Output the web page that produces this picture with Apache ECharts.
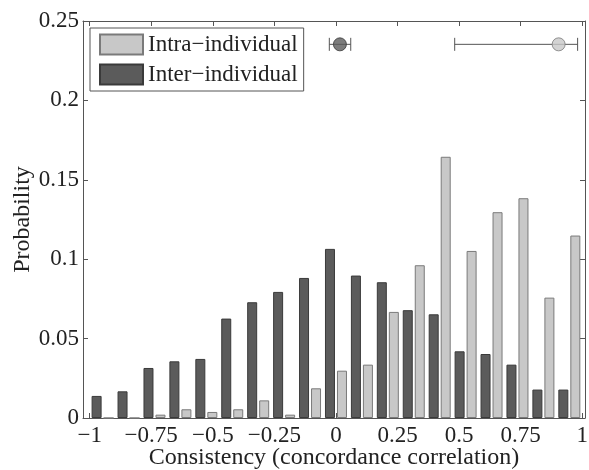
<!DOCTYPE html>
<html>
<head>
<meta charset="utf-8">
<script src="https://cdn.jsdelivr.net/npm/echarts@6/dist/echarts.min.js"></script>
<style>
html,body{margin:0;padding:0;background:#fff;}
#chart{width:589px;height:470px;}
</style>
</head>
<body>
<div id="chart"></div>
<script>
// ---- data ----
var binCount = 19;
var binCenters = [-0.9474,-0.8421,-0.7368,-0.6316,-0.5263,-0.4211,-0.3158,-0.2105,-0.1053,0,0.1053,0.2105,0.3158,0.4211,0.5263,0.6316,0.7368,0.8421,0.9474];
var intraValues = [0,0,0.0021,0.0055,0.0038,0.0055,0.0111,0.0021,0.0187,0.0298,0.0336,0.0668,0.0962,0.1645,0.1052,0.1296,0.1384,0.0758,0.1149];
var interValues = [0.0139,0.0168,0.0315,0.0357,0.0372,0.0626,0.0729,0.0794,0.0882,0.1065,0.0897,0.0855,0.0679,0.0653,0.0420,0.0403,0.0336,0.0179,0.0179];
var xTicks = [-1,-0.75,-0.5,-0.25,0,0.25,0.5,0.75,1];
var yTicks = [0,0.05,0.1,0.15,0.2,0.25];
var summaryMean = [0.016, 0.904];
var summaryLow = [-0.027, 0.482];
var summaryHigh = [0.060, 0.981];
var summaryY = [0.2353, 0.2353];

var FONT = '"Liberation Serif","Times New Roman",serif';
var LIGHT = '#c8c8c8', LIGHT_EDGE = '#7a7a7a';
var DARK = '#5b5b5b', DARK_EDGE = '#3a3a3a';
function fmt(v){ return String(v).replace('-', '\u2212'); }

var chart = echarts.init(document.getElementById('chart'), null, {renderer:'canvas'});
var intraData = binCenters.map(function(c,i){return [c, intraValues[i]];});
var interData = binCenters.map(function(c,i){return [c, interValues[i]];});
var errData = summaryMean.map(function(m,i){return [summaryLow[i], summaryHigh[i], summaryY[i], i];});

var option = {
  animation:false,
  backgroundColor:'#fff',
  textStyle:{fontFamily:FONT},
  grid:{left:83, right:4, top:21, bottom:52, containLabel:false, outerBoundsMode:'none'},
  legend:{
    orient:'vertical', left:90, top:28,
    data:['Intra\u2212individual','Inter\u2212individual'],
    itemWidth:43, itemHeight:20, itemGap:7,
    padding:[5,6,5,9],
    borderColor:'#555', borderWidth:1, backgroundColor:'#fff',
    textStyle:{fontFamily:FONT, fontSize:23, color:'#222'},
    icon:'rect'
  },
  xAxis:[{
    type:'value', min:-1.027, max:1.011,
    name:'Consistency (concordance correlation)', nameLocation:'middle', nameGap:28, nameMoveOverlap:false,
    nameTextStyle:{fontFamily:FONT, fontSize:24, color:'#222', verticalAlign:'top'},
    axisLine:{onZero:false, lineStyle:{color:'#555', width:1}},
    axisTick:{inside:true, length:5, customValues:xTicks, lineStyle:{color:'#555'}},
    axisLabel:{customValues:xTicks, formatter:fmt, fontFamily:FONT, fontSize:23, color:'#222', margin:6},
    splitLine:{show:false}
  },{
    type:'value', position:'top', min:-1.027, max:1.011,
    axisLine:{onZero:false, lineStyle:{color:'#555', width:1}},
    axisTick:{inside:true, length:5, customValues:xTicks, lineStyle:{color:'#555'}},
    axisLabel:{show:false}, splitLine:{show:false}
  }],
  yAxis:[{
    type:'value', min:0, max:0.25, interval:0.05,
    name:'Probability', nameLocation:'middle', nameGap:48, nameMoveOverlap:false,
    nameTextStyle:{fontFamily:FONT, fontSize:24, color:'#222'},
    axisLine:{show:true, onZero:false, lineStyle:{color:'#555', width:1}},
    axisTick:{show:true, inside:true, length:5, lineStyle:{color:'#555'}},
    axisLabel:{fontFamily:FONT, fontSize:23, color:'#222', margin:4, formatter:function(v){return String(v);}},
    splitLine:{show:false}
  },{
    type:'value', position:'right', min:0, max:0.25, interval:0.05,
    axisLine:{show:true, onZero:false, lineStyle:{color:'#555', width:1}},
    axisTick:{show:true, inside:true, length:5, lineStyle:{color:'#555'}},
    axisLabel:{show:false}, splitLine:{show:false}
  }],
  series:[
    {
      name:'Inter\u2212individual', type:'bar', data:interData,
      barWidth:10, barGap:'20%',
      itemStyle:{color:DARK, borderColor:DARK_EDGE, borderWidth:1}
    },
    {
      name:'Intra\u2212individual', type:'bar', data:intraData,
      barWidth:10, barGap:'20%',
      itemStyle:{color:LIGHT, borderColor:LIGHT_EDGE, borderWidth:1}
    },
    {
      type:'custom', data:errData, silent:true, z:5,
      renderItem:function(params, api){
        var p1 = api.coord([api.value(0), api.value(2)]);
        var p2 = api.coord([api.value(1), api.value(2)]);
        var cap = 6.5;
        var st = {stroke:'#555', lineWidth:1};
        return {type:'group', children:[
          {type:'line', shape:{x1:p1[0], y1:p1[1], x2:p2[0], y2:p2[1]}, style:st},
          {type:'line', shape:{x1:p1[0], y1:p1[1]-cap, x2:p1[0], y2:p1[1]+cap}, style:st},
          {type:'line', shape:{x1:p2[0], y1:p2[1]-cap, x2:p2[0], y2:p2[1]+cap}, style:st}
        ]};
      }
    },
    {
      type:'scatter', z:6, symbol:'circle', symbolSize:13,
      data:[
        {value:[summaryMean[0], summaryY[0]], itemStyle:{color:DARK, borderColor:DARK_EDGE, borderWidth:1}},
        {value:[summaryMean[1], summaryY[1]], itemStyle:{color:LIGHT, borderColor:LIGHT_EDGE, borderWidth:1}}
      ]
    }
  ]
};
chart.setOption(option);
</script>
</body>
</html>
